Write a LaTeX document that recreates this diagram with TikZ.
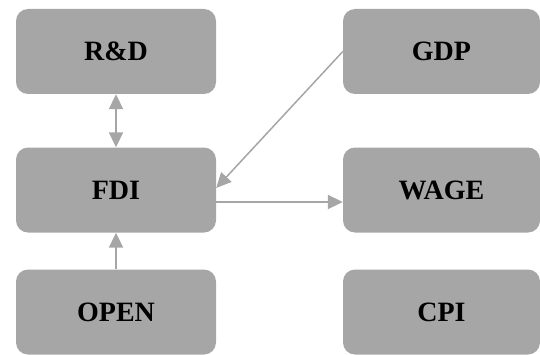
\documentclass[tikz,border=0pt]{standalone}
\usepackage{fontspec}
\setmainfont{Liberation Serif}
\usetikzlibrary{arrows.meta, positioning, calc}
\definecolor{boxgray}{HTML}{A6A6A6}

\begin{document}
\begin{tikzpicture}[x=1pt, y=1pt,
  >={Triangle[length=15pt, width=14pt]},
  box/.style={fill=boxgray, rounded corners=12pt, minimum width=200pt, minimum height=85pt, inner sep=0pt, font=\fontsize{28}{32}\selectfont\bfseries},
  link/.style={draw=boxgray, fill=boxgray, line width=2pt}]
  \useasboundingbox (0,0) rectangle (540,354);
  % left column
  \node[box] (RD)   at (116, 302.5) {R\&D};
  \node[box] (FDI)  at (116, 164)   {FDI};
  \node[box] (OPEN) at (116, 42)    {OPEN};
  % right column
  \node[box, minimum width=197pt] (GDP)  at (441.5, 302.5) {GDP};
  \node[box, minimum width=197pt] (WAGE) at (441.5, 164)   {WAGE};
  \node[box, minimum width=197pt] (CPI)  at (441.5, 42)    {CPI};

  % links into and out of FDI
  \draw[link, <->] (RD) -- (FDI);
  \draw[link, ->] (OPEN) -- (FDI);
  \draw[link, ->, line width=1.5pt] (GDP.west) -- ([yshift=2pt]FDI.east);
  \draw[link, ->] ([yshift=-12pt]FDI.east) -- ([yshift=-12pt]FDI.east -| WAGE.west);
\end{tikzpicture}
\end{document}
